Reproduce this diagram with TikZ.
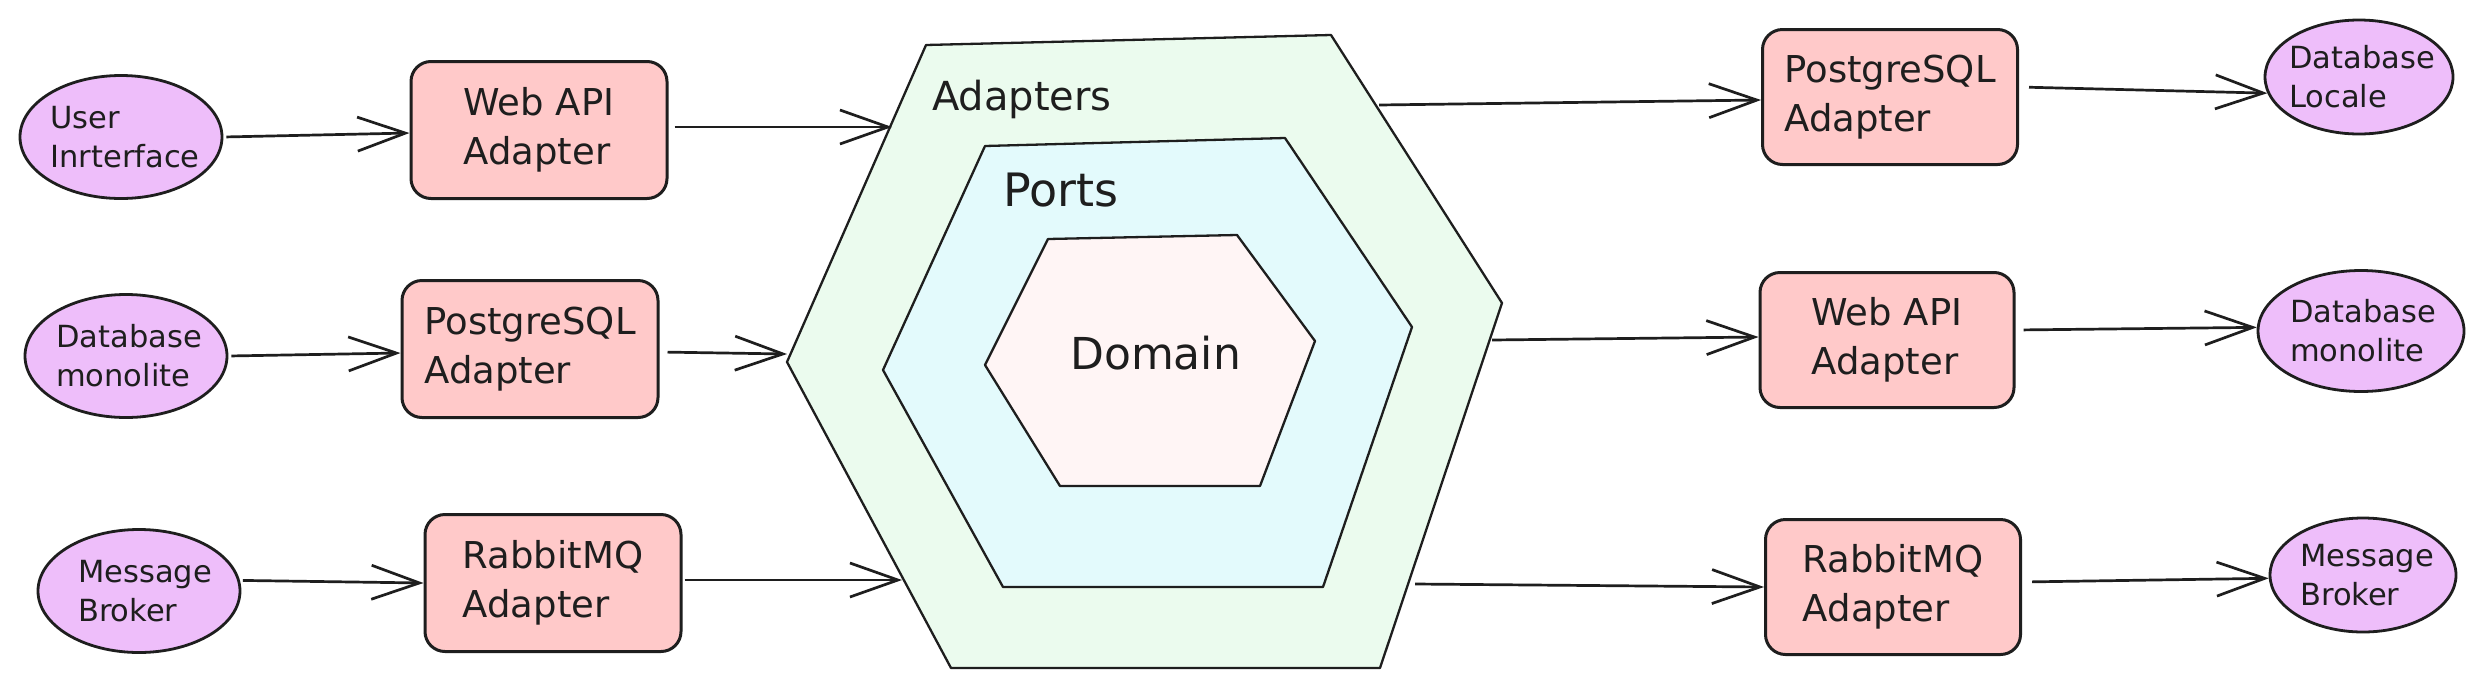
\documentclass[tikz,border=0pt]{standalone}
\usepackage{fontspec}
\setmainfont{DejaVu Sans}
\usetikzlibrary{arrows.meta,shapes.geometric}
\definecolor{ink}{HTML}{1E1E1E}
\definecolor{lilac}{HTML}{EEBEFA}
\definecolor{rose}{HTML}{FFC9C9}
\definecolor{mint}{HTML}{EBFBEE}
\definecolor{aqua}{HTML}{E3FAFC}
\definecolor{blush}{HTML}{FFF5F5}
\begin{document}
\begin{tikzpicture}[x=1pt,y=-1pt,
  extshape/.style={ellipse, draw=ink, fill=lilac, line width=2.8pt, inner sep=0pt},
  exttext/.style={inner sep=0pt, align=left, text=ink, font=\fontsize{30.5}{39}\selectfont},
  adapter/.style={rectangle, rounded corners=20pt, draw=ink, fill=rose, line width=3pt, inner sep=0pt,
    minimum width=256pt, minimum height=137pt, align=left, text=ink, font=\fontsize{37}{49}\selectfont},
  hexa/.style={draw=ink, line width=2.3pt, line join=round},
  flow/.style={draw=ink, line width=2.7pt, -{Straight Barb[length=48pt,width=34pt,line width=2.7pt]}},
  lbl/.style={anchor=base west, inner sep=0pt, text=ink}
]
\fill[white] (0,0) rectangle (2484,689);
\useasboundingbox (0,0) rectangle (2484,689);

% hexagons
\path[hexa, fill=mint] (926,45) -- (1331,35) -- (1502,303) -- (1380,668) -- (951,668) -- (787,362) -- cycle;
\path[hexa, fill=aqua] (985,146) -- (1285,138) -- (1412,327) -- (1323,587) -- (1003,587) -- (883,370) -- cycle;
\path[hexa, fill=blush] (1048,239) -- (1237,235) -- (1315,341) -- (1260,486) -- (1060,486) -- (985,365) -- cycle;
\node[lbl, font=\fontsize{40}{48}\selectfont] (adapters) at (932,110) {Adapters};
\node[lbl, font=\fontsize{46}{54}\selectfont] (ports) at (1003,206) {Ports};
\node[lbl, font=\fontsize{44}{52}\selectfont] (domain) at (1070,369) {Domain};

\coordinate (hin1) at (892,127);
\coordinate (hin2) at (787,354);
\coordinate (hin3) at (902,580);
\coordinate (hout1) at (1379,105);
\coordinate (hout2) at (1492,340);
\coordinate (hout3) at (1415,584);

% left externals
\node[extshape, minimum width=202pt, minimum height=123pt] (ui) at (121,137) {};
\node[exttext] (uit) at ([xshift=4pt]ui.center) {User\\Inrterface};
\node[extshape, minimum width=202pt, minimum height=123pt] (dbm) at (126,356) {};
\node[exttext] (dbmt) at ([xshift=3pt]dbm.center) {Database\\monolite};
\node[extshape, minimum width=202pt, minimum height=123pt] (mb) at (139,591) {};
\node[exttext] (mbt) at ([xshift=6pt]mb.center) {Message\\Broker};

% left adapters
\node[adapter] (webl) at (539,130) {Web API\\Adapter};
\node[adapter] (pgl) at (530,349) {PostgreSQL\\Adapter};
\node[adapter] (rmql) at (553,583) {RabbitMQ\\Adapter};

% right adapters
\node[adapter, minimum width=255pt, minimum height=135pt] (pgr) at (1890,97) {PostgreSQL\\Adapter};
\node[adapter, minimum width=254pt, minimum height=135pt] (webr) at (1887,340) {Web API\\Adapter};
\node[adapter, minimum width=255pt, minimum height=135pt] (rmqr) at (1893,587) {RabbitMQ\\Adapter};

% right externals
\node[extshape, minimum width=188pt, minimum height=114pt] (dbl) at (2359,77) {};
\node[exttext] (dblt) at ([xshift=3pt]dbl.center) {Database\\Locale};
\node[extshape, minimum width=206pt, minimum height=121pt] (dbr) at (2361,331) {};
\node[exttext] (dbrt) at ([xshift=2pt]dbr.center) {Database\\monolite};
\node[extshape, minimum width=186pt, minimum height=114pt] (mbr) at (2363,575) {};
\node[exttext] (mbrt) at ([xshift=4pt]mbr.center) {Message\\Broker};

% connectors
\draw[flow, shorten <=3pt] (ui.east) -- ([yshift=-3pt]webl.west);
\draw[flow, shorten <=3pt] (dbm.east) -- ([yshift=-4pt]pgl.west);
\draw[flow, shorten <=3pt] (mb.6) -- (rmql.west);
\draw[flow, shorten <=6pt] ([yshift=3pt]webl.east) -- (hin1);
\draw[flow, shorten <=8pt] ([yshift=-3pt]pgl.east) -- (hin2);
\draw[flow, shorten <=2pt] ([yshift=3pt]rmql.east) -- (hin3);
\draw[flow] (hout1) -- ([yshift=-3pt]pgr.west);
\draw[flow] (hout2) -- ([yshift=3pt]webr.west);
\draw[flow] (hout3) -- (rmqr.west);
\draw[flow, shorten <=10pt] ([yshift=10pt]pgr.east) -- (dbl.190);
\draw[flow, shorten <=8pt] ([yshift=10pt]webr.east) -- (dbr.178);
\draw[flow, shorten <=10pt] ([yshift=5pt]rmqr.east) -- (mbr.182);
\end{tikzpicture}
\end{document}
